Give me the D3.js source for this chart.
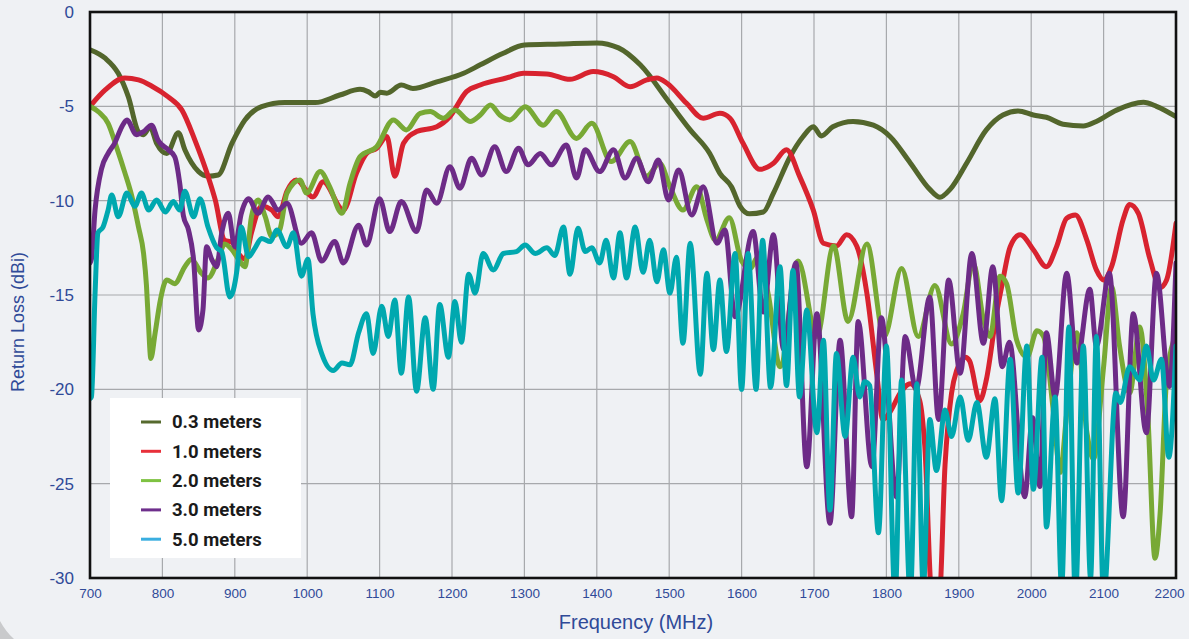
<!DOCTYPE html>
<html><head><meta charset="utf-8">
<script src="https://cdn.jsdelivr.net/npm/d3@7/dist/d3.min.js"></script>
<style>
html,body{margin:0;padding:0;background:#eff1f4;}
svg{display:block;}
</style></head>
<body>
<svg id="chart" width="1189" height="639"></svg>
<script>
// ---------- DATA ----------
const xTicks = [700,800,900,1000,1100,1200,1300,1400,1500,1600,1700,1800,1900,2000,2100,2200];
const yTicks = [0,-5,-10,-15,-20,-25,-30];
const seriesNames = ["0.3 meters","1.0 meters","2.0 meters","3.0 meters","5.0 meters"];

const s03 = [[700,-2.0],[721,-2.45],[739,-3.25],[753,-4.5],[767,-6.35],[774,-6.5],[783,-6.1],[792,-6.96],[806,-7.5],[822,-6.4],[831,-7.3],[850,-8.46],[863,-8.7],[877,-8.64],[896,-6.96],[914,-5.72],[937,-5.02],[969,-4.8],[1011,-4.8],[1045,-4.4],[1073,-4.1],[1084,-4.22],[1094,-4.45],[1101,-4.26],[1110,-4.3],[1130,-3.87],[1146,-4.05],[1179,-3.7],[1216,-3.25],[1239,-2.8],[1270,-2.2],[1300,-1.75],[1350,-1.7],[1400,-1.64],[1430,-1.9],[1460,-2.8],[1501,-4.84],[1529,-6.25],[1556,-7.5],[1570,-8.55],[1586,-9.26],[1598,-10.3],[1611,-10.7],[1630,-10.6],[1644,-9.6],[1667,-7.67],[1685,-6.6],[1699,-6.08],[1710,-6.57],[1726,-6.08],[1754,-5.8],[1782,-6.0],[1805,-6.6],[1833,-8.0],[1860,-9.4],[1874,-9.82],[1888,-9.4],[1911,-8.0],[1938,-6.25],[1961,-5.46],[1982,-5.25],[2003,-5.46],[2021,-5.58],[2044,-5.95],[2072,-6.04],[2090,-5.8],[2118,-5.2],[2155,-4.79],[2173,-5.0],[2200,-5.55]];

const s10 = [[700,-5.0],[721,-4.13],[748,-3.5],[767,-3.6],[785,-3.92],[808,-4.5],[827,-5.2],[845,-6.8],[863,-8.7],[873,-9.96],[886,-12.1],[896,-12.2],[905,-12.8],[914,-13.1],[923,-11.7],[937,-10.3],[951,-10.5],[960,-10.85],[972,-9.5],[985,-8.9],[1008,-9.8],[1022,-9.0],[1050,-10.5],[1068,-8.55],[1082,-7.5],[1096,-7.22],[1110,-6.6],[1121,-8.7],[1133,-6.96],[1151,-6.34],[1179,-6.08],[1197,-5.55],[1220,-4.22],[1239,-3.87],[1275,-3.5],[1299,-3.25],[1331,-3.28],[1363,-3.57],[1395,-3.16],[1423,-3.43],[1446,-3.96],[1469,-3.6],[1483,-3.5],[1497,-3.78],[1524,-4.84],[1547,-5.63],[1570,-5.37],[1584,-5.63],[1602,-6.96],[1625,-8.34],[1644,-8.02],[1662,-7.3],[1680,-8.7],[1699,-10.5],[1713,-12.26],[1731,-12.4],[1745,-11.8],[1759,-12.4],[1773,-14.9],[1787,-19.3],[1795,-21.6],[1805,-21.2],[1819,-20.2],[1833,-19.7],[1846,-20.6],[1853,-23],[1863,-31],[1873,-31],[1881,-24],[1890,-20.2],[1897,-19.0],[1909,-18.3],[1915,-18.5],[1929,-20.6],[1938,-19.5],[1952,-16.0],[1960,-14.4],[1971,-12.44],[1985,-11.8],[2003,-12.6],[2021,-13.5],[2035,-12.44],[2049,-10.93],[2061,-10.76],[2077,-12.1],[2090,-13.67],[2100,-14.2],[2111,-13.5],[2127,-11.0],[2136,-10.2],[2148,-10.67],[2164,-13.1],[2178,-14.6],[2187,-14.2],[2200,-11.2]];

const s20 = [[700,-5.0],[712,-5.3],[725,-5.9],[737,-7.2],[748,-8.5],[758,-9.8],[767,-11.4],[774,-12.8],[778,-14.5],[781,-16.7],[784,-18.36],[790,-17.0],[797,-15.3],[806,-14.2],[817,-14.4],[831,-13.5],[840,-13.1],[854,-13.85],[863,-14.1],[877,-13.1],[886,-12.3],[896,-12.6],[905,-13.1],[914,-13.5],[923,-10.85],[932,-9.96],[942,-10.85],[951,-11.9],[962,-11.55],[972,-9.6],[990,-8.9],[999,-9.6],[1018,-8.46],[1031,-9.26],[1048,-10.67],[1059,-9.1],[1073,-7.67],[1096,-7.14],[1119,-5.72],[1137,-6.25],[1156,-5.37],[1170,-5.28],[1188,-5.63],[1204,-5.2],[1225,-5.8],[1239,-5.46],[1253,-4.93],[1266,-5.46],[1280,-5.72],[1301,-5.02],[1326,-6.0],[1344,-5.28],[1372,-6.7],[1393,-5.9],[1420,-7.93],[1446,-6.87],[1469,-8.7],[1487,-8.02],[1501,-9.26],[1519,-10.5],[1538,-9.26],[1552,-11.0],[1564,-12.1],[1583,-10.9],[1600,-13.2],[1612,-13.6],[1622,-13.0],[1637,-15.0],[1653,-18.8],[1678,-13.2],[1704,-17.2],[1727,-12.4],[1747,-16.4],[1773,-12.3],[1797,-17.2],[1821,-13.6],[1844,-17.2],[1867,-14.5],[1890,-17.6],[1906,-16.0],[1920,-13.3],[1934,-16.3],[1943,-17.2],[1957,-14.0],[1966,-14.4],[1980,-17.4],[1994,-18.3],[2008,-16.9],[2017,-17.2],[2031,-21.3],[2040,-24.4],[2049,-21.3],[2063,-17.0],[2077,-22.3],[2086,-23.7],[2100,-18.8],[2111,-14.56],[2122,-17.7],[2136,-20.2],[2150,-16.7],[2161,-21.3],[2171,-28.95],[2178,-26.6],[2187,-19.5],[2200,-17.1]];

const s30 = [[700,-13.3],[702,-13.1],[707,-10.5],[716,-8.3],[725,-7.5],[734,-6.96],[744,-6.08],[751,-5.72],[764,-6.5],[774,-6.34],[785,-6.0],[794,-6.8],[808,-7.3],[817,-7.67],[824,-9.1],[829,-10.8],[836,-11.55],[843,-13.1],[850,-16.85],[856,-15.8],[861,-12.44],[868,-13.1],[875,-13.5],[882,-11.7],[891,-10.67],[900,-12.44],[909,-10.67],[919,-9.9],[932,-10.67],[946,-9.8],[960,-10.5],[972,-10.14],[992,-12.26],[1006,-11.7],[1020,-13.2],[1038,-12.17],[1050,-13.3],[1071,-11.3],[1082,-12.35],[1100,-9.9],[1114,-11.64],[1130,-10.05],[1151,-11.64],[1165,-9.43],[1179,-10.14],[1197,-8.2],[1211,-9.34],[1227,-7.75],[1241,-8.64],[1259,-7.14],[1275,-8.46],[1292,-7.22],[1305,-8.1],[1322,-7.5],[1337,-8.1],[1358,-7.05],[1372,-8.8],[1384,-7.3],[1404,-8.46],[1423,-7.3],[1439,-8.8],[1455,-7.75],[1471,-9.0],[1485,-7.84],[1499,-9.96],[1513,-8.37],[1531,-10.76],[1547,-9.26],[1566,-12.26],[1577,-11.55],[1591,-16.15],[1616,-11.64],[1630,-15.9],[1644,-11.8],[1658,-17.9],[1675,-13.3],[1690,-24.1],[1704,-16.0],[1722,-27.1],[1736,-17.4],[1752,-26.75],[1761,-16.4],[1780,-24.1],[1793,-16.2],[1814,-25.7],[1826,-17.2],[1841,-20.0],[1860,-15.1],[1872,-21.6],[1886,-14.2],[1902,-19.15],[1918,-12.8],[1934,-17.56],[1947,-13.5],[1960,-18.8],[1970,-17.5],[1991,-25.7],[2002,-21.5],[2012,-25.15],[2021,-17.0],[2033,-20.4],[2049,-13.85],[2063,-18.6],[2081,-14.7],[2090,-17.7],[2108,-13.85],[2127,-26.75],[2141,-16.0],[2159,-22.3],[2173,-13.85],[2191,-19.85],[2200,-13.3]];

const s50 = [[700,-20.5],[702,-20.4],[707,-14.9],[711,-11.7],[718,-11.4],[725,-10.5],[730,-9.7],[739,-10.85],[751,-9.6],[762,-10.3],[771,-9.6],[781,-10.5],[792,-9.96],[804,-10.6],[815,-10.05],[824,-10.5],[831,-9.5],[843,-10.85],[852,-9.9],[863,-11.4],[875,-12.5],[882,-12.7],[893,-15.1],[903,-13.67],[909,-11.4],[919,-12.97],[928,-12.5],[937,-12.0],[949,-12.17],[958,-11.55],[972,-12.44],[981,-11.7],[992,-14.0],[1001,-13.1],[1008,-16.0],[1020,-18.1],[1036,-19.0],[1048,-18.6],[1059,-18.7],[1071,-17.0],[1082,-16.0],[1091,-18.1],[1103,-15.6],[1112,-17.2],[1121,-15.26],[1130,-19.15],[1140,-15.1],[1151,-20.1],[1163,-16.2],[1174,-20.0],[1183,-15.5],[1195,-18.3],[1204,-15.35],[1213,-17.5],[1223,-13.9],[1232,-14.9],[1243,-12.8],[1257,-13.67],[1271,-12.8],[1289,-12.7],[1301,-12.35],[1315,-12.8],[1331,-12.5],[1342,-12.9],[1354,-11.4],[1363,-13.9],[1374,-11.46],[1384,-12.7],[1393,-12.5],[1404,-13.3],[1413,-12.1],[1423,-14.1],[1432,-11.7],[1441,-14.1],[1453,-11.4],[1464,-13.8],[1473,-12.1],[1483,-14.3],[1492,-12.6],[1501,-14.9],[1510,-13.0],[1519,-17.56],[1529,-12.26],[1543,-19.2],[1552,-13.85],[1561,-17.9],[1570,-14.2],[1579,-18.0],[1591,-12.8],[1600,-20.0],[1609,-12.8],[1620,-20.0],[1629,-12.1],[1640,-19.9],[1653,-13.5],[1662,-19.8],[1671,-13.7],[1680,-20.4],[1690,-15.8],[1704,-22.3],[1713,-17.4],[1722,-26.4],[1731,-18.1],[1743,-22.5],[1754,-18.3],[1763,-20.4],[1770,-19.6],[1777,-19.8],[1789,-27.6],[1800,-17.7],[1812,-31],[1821,-19.5],[1833,-31],[1842,-19.7],[1851,-30.5],[1860,-21.6],[1869,-24.3],[1881,-21.1],[1890,-22.5],[1902,-20.4],[1913,-22.7],[1925,-20.7],[1938,-23.6],[1950,-20.5],[1959,-25.9],[1971,-18.4],[1982,-25.5],[1994,-17.7],[2003,-25.3],[2015,-18.3],[2021,-27.3],[2033,-20.4],[2042,-30.5],[2052,-16.7],[2061,-31],[2072,-17.7],[2082,-30],[2090,-17.2],[2100,-31],[2117,-20.2],[2123,-20.7],[2136,-18.8],[2150,-19.5],[2159,-17.7],[2169,-19.5],[2180,-18.4],[2190,-23.6],[2200,-17.7]];

const seriesData = [s03, s10, s20, s30, s50];
const lineColors = ["#53662c","#d8232f","#78a935","#6d2b87","#00a8af"];
const legendColors = ["#566a2e","#e8303a","#7ec242","#6e2f8c","#3aaee0"];

// ---------- CHART ----------
const svg = d3.select("#chart");
const L = 90, R = 1176, T = 12, B = 578;
const x = d3.scaleLinear().domain([700,2200]).range([L,R]);
const y = d3.scaleLinear().domain([0,-30]).range([T,B]);

// page background
svg.append("rect").attr("width",1189).attr("height",639).attr("fill","#eff1f4");
svg.append("path").attr("d","M0,621 Q6,632 14,639 L0,639 Z").attr("fill","#c9cacc");

// grid
const grid = svg.append("g");
grid.selectAll("line.v").data(xTicks).join("line")
  .attr("x1",d=>x(d)).attr("x2",d=>x(d)).attr("y1",T).attr("y2",B)
  .attr("stroke","#a7a9ac").attr("stroke-width",1.2);
grid.selectAll("line.h").data(yTicks).join("line")
  .attr("y1",d=>y(d)).attr("y2",d=>y(d)).attr("x1",L).attr("x2",R)
  .attr("stroke","#a7a9ac").attr("stroke-width",1.2);

// clip
svg.append("defs").append("clipPath").attr("id","clip")
  .append("rect").attr("x",L).attr("y",T).attr("width",R-L).attr("height",B-T);

const line = d3.line().x(d=>x(d[0])).y(d=>y(d[1])).curve(d3.curveMonotoneX);
const lines = svg.append("g").attr("clip-path","url(#clip)");
seriesData.forEach((s,i)=>{
  lines.append("path").datum(s).attr("d",line)
    .attr("fill","none").attr("stroke",lineColors[i])
    .attr("stroke-width",5).attr("stroke-linejoin","round").attr("stroke-linecap","round");
});

// frame
svg.append("rect").attr("x",L).attr("y",T).attr("width",R-L).attr("height",B-T)
  .attr("fill","none").attr("stroke","#111").attr("stroke-width",2.6);

// axes labels via d3 axes
const axisColor = "#2f4a98";
const yAxis = d3.axisLeft(y).tickValues(yTicks).tickSize(0).tickPadding(16).tickFormat(d=>String(d));
const gy = svg.append("g").attr("transform",`translate(${L},0)`).call(yAxis);
gy.select(".domain").remove();
gy.selectAll("text").attr("fill",axisColor).attr("font-family","Liberation Sans, Arial, sans-serif").attr("font-size",17);

const xAxis = d3.axisBottom(x).tickValues(xTicks).tickSize(0).tickPadding(10).tickFormat(d=>String(d));
const gx = svg.append("g").attr("transform",`translate(0,${B})`).call(xAxis);
gx.select(".domain").remove();
gx.selectAll("text").attr("fill",axisColor).attr("font-family","Liberation Sans, Arial, sans-serif").attr("font-size",13.5);
gx.selectAll(".tick").filter(d=>d===2200).select("text").attr("text-anchor","end").attr("dx",8);

svg.append("text").attr("x",636).attr("y",629).attr("text-anchor","middle")
  .attr("fill",axisColor).attr("font-family","Liberation Sans, Arial, sans-serif").attr("font-size",20)
  .text("Frequency (MHz)");
svg.append("text").attr("transform","translate(24,322) rotate(-90)").attr("text-anchor","middle")
  .attr("fill",axisColor).attr("font-family","Liberation Sans, Arial, sans-serif").attr("font-size",18)
  .text("Return Loss (dBi)");

// legend
const lg = svg.append("g");
lg.append("rect").attr("x",110).attr("y",398).attr("width",191).attr("height",160).attr("fill","#ffffff");
seriesNames.forEach((n,i)=>{
  const yy = 422 + i*29.3;
  lg.append("line").attr("x1",141).attr("x2",161).attr("y1",yy).attr("y2",yy)
    .attr("stroke",legendColors[i]).attr("stroke-width",3);
  lg.append("text").attr("x",172).attr("y",yy).attr("dy","0.35em")
    .attr("font-family","Roboto, sans-serif").attr("font-weight",700).attr("font-size",18.5)
    .attr("fill","#1a1a1a").text(n);
});
</script>
</body></html>
